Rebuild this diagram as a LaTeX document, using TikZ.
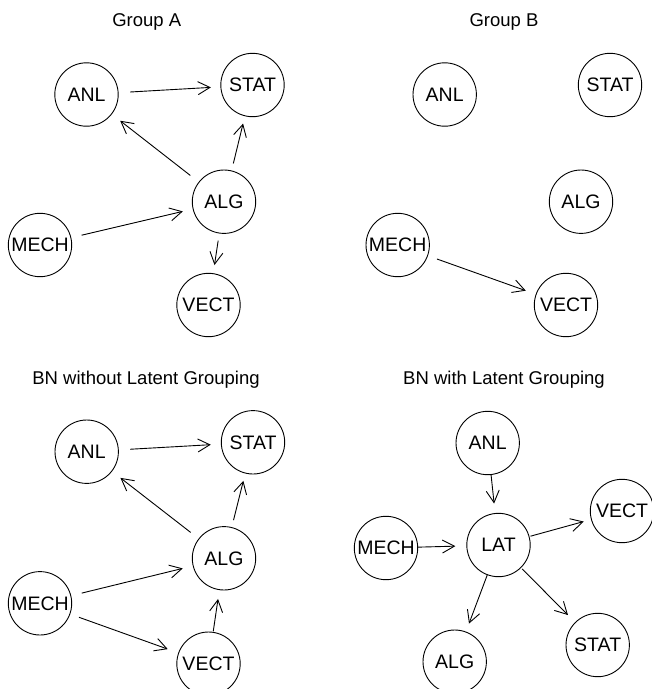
\documentclass[tikz,border=0pt]{standalone}
\usepackage{fontspec}
\setmainfont{Liberation Sans}
\usetikzlibrary{arrows.meta}
\tikzset{
  v/.style={circle, draw, line width=0.9pt, minimum size=63.4pt, inner sep=0pt, outer sep=0pt, font=\fontsize{19.5}{19.5}\selectfont},
  e/.style={draw, line width=0.9pt, -{Straight Barb[length=12pt,width=13pt]}},
  ttl/.style={anchor=base, inner sep=0pt, font=\fontsize{18.5}{18.5}\selectfont},
}
\begin{document}
\begin{tikzpicture}[x=1pt, y=-1pt]
\useasboundingbox (0,0) rectangle (652,689);
\clip (0,0) rectangle (652,689);
% Panel A
\node[ttl] (tA) at (146.7,26.7) {Group A};
\node[v] (aANL) at (86.5,94.5) {ANL};
\node[v] (aSTAT) at (252.5,85) {STAT};
\node[v] (aALG) at (224,201.7) {ALG};
\node[v] (aMECH) at (40,245) {MECH};
\node[v] (aVECT) at (208.5,305) {VECT};
\draw[e, shorten <=12pt, shorten >=10pt] (aANL) -- (aSTAT);
\draw[e, shorten <=11pt, shorten >=11pt] (aALG) -- (aANL);
\draw[e, shorten <=7.7pt, shorten >=8pt] (aALG) -- (aSTAT);
\draw[e, shorten <=11pt, shorten >=10.6pt] (aMECH) -- (aALG);
\draw[e, shorten <=7.7pt, shorten >=8.7pt] (aALG) -- (aVECT);
% Panel B
\node[ttl] (tB) at (504,26.7) {Group B};
\node[v] (bANL) at (444.7,94.5) {ANL};
\node[v] (bSTAT) at (610,85) {STAT};
\node[v] (bALG) at (581,201.7) {ALG};
\node[v] (bMECH) at (397.7,245) {MECH};
\node[v] (bVECT) at (566,305) {VECT};
\draw[e, shorten <=10pt, shorten >=11pt] (bMECH) -- (bVECT);
% Panel C
\node[ttl] (tC) at (146,384) {BN without Latent Grouping};
\node[v] (cANL) at (86.7,451.7) {ANL};
\node[v] (cSTAT) at (253,442.3) {STAT};
\node[v] (cALG) at (224,558.3) {ALG};
\node[v] (cMECH) at (40,603.3) {MECH};
\node[v] (cVECT) at (208.5,663.7) {VECT};
\draw[e, shorten <=11.7pt, shorten >=10.6pt] (cANL) -- (cSTAT);
\draw[e, shorten <=10.5pt, shorten >=11pt] (cALG) -- (cANL);
\draw[e, shorten <=7.6pt, shorten >=8pt] (cALG) -- (cSTAT);
\draw[e, shorten <=11.3pt, shorten >=10.8pt] (cMECH) -- (cALG);
\draw[e, shorten <=9.8pt, shorten >=11.6pt] (cMECH) -- (cVECT);
\draw[e, shorten <=1pt, shorten >=9.4pt] (cVECT) -- (cALG);
% Panel D
\node[ttl] (tD) at (504,384) {BN with Latent Grouping};
\node[v] (dANL) at (487.7,443) {ANL};
\node[v] (dVECT) at (622,511) {VECT};
\node[v] (dMECH) at (386,548) {MECH};
\node[v] (dLAT) at (498.5,545) {LAT};
\node[v] (dALG) at (454.7,661.7) {ALG};
\node[v] (dSTAT) at (597.7,645) {STAT};
\draw[e, shorten <=0pt, shorten >=10pt] (dANL) -- (dLAT);
\draw[e, shorten <=0pt, shorten >=11.5pt] (dMECH) -- (dLAT);
\draw[e, shorten <=1.5pt, shorten >=8pt] (dLAT) -- (dVECT);
\draw[e, shorten <=0pt, shorten >=9pt] (dLAT) -- (dALG);
\draw[e, shorten <=2pt, shorten >=10.5pt] (dLAT) -- (dSTAT);
\end{tikzpicture}
\end{document}
